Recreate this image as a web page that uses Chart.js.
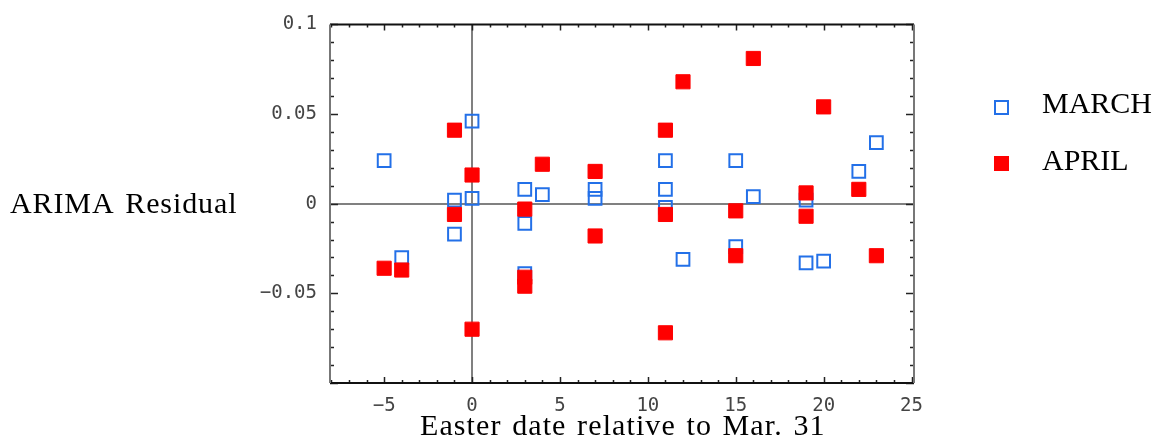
<!DOCTYPE html>
<html>
<head>
<meta charset="utf-8">
<title>ARIMA Residual vs Easter date</title>
<script src="https://cdn.jsdelivr.net/npm/chart.js@4/dist/chart.umd.min.js"></script>
<style>
    body { margin: 0; background: #fff; }
    .wrap { position: relative; width: 1154px; height: 441px; }
    .serif { position: absolute; font-family: "Liberation Serif", "DejaVu Serif", serif; font-size: 30px; line-height: 30px; color: #000; white-space: nowrap; }
    .mark { position: absolute; box-sizing: border-box; }
</style>
</head>
<body>
<div class="wrap">
    <canvas id="residualChart" width="1154" height="441"></canvas>
    <div class="serif" style="left:10px; top:188px; letter-spacing:0.9px; word-spacing:4px;">ARIMA Residual</div>
    <div class="serif" style="left:420px; top:410px; letter-spacing:1.1px; word-spacing:2px;">Easter date relative to Mar. 31</div>
    <div class="mark" style="left:994px; top:100px; width:15px; height:15px; border:2px solid #2370e8;"></div>
    <div class="serif" style="left:1042px; top:88px;">MARCH</div>
    <div class="mark" style="left:994px; top:156px; width:15px; height:15px; background:#ff0000;"></div>
    <div class="serif" style="left:1042px; top:145px;">APRIL</div>
</div>
<script>
// ============================================
// DATOS
// ============================================
const easterOffsets = [-5, -4, -1, -1, 0, 0, 3, 3, 3, 4, 7, 7, 11, 11, 11, 12, 15, 15, 16, 19, 19, 20, 22, 23];
const marchResiduals = [0.024, -0.030, 0.002, -0.017, 0.046, 0.003, 0.008, -0.011, -0.039, 0.005, 0.008, 0.003,
                        0.024, 0.008, -0.002, -0.031, 0.024, -0.024, 0.004, 0.002, -0.033, -0.032, 0.018, 0.034];
const aprilResiduals = [-0.036, -0.037, 0.041, -0.006, 0.016, -0.070, -0.003, -0.041, -0.046, 0.022, 0.018, -0.018,
                        0.041, -0.006, -0.072, 0.068, -0.004, -0.029, 0.081, 0.006, -0.007, 0.054, 0.008, -0.029];
const xTickValues = [-5, 0, 5, 10, 15, 20, 25];
const yTickValues = [-0.05, 0, 0.05, 0.1];

const toPoints = (ys) => easterOffsets.map((x, i) => ({ x: x, y: ys[i] }));
const fmtTick = (v) => String(+Number(v).toFixed(2)).replace('-', '\u2212');
const tickFont = { family: '"DejaVu Sans Mono", "Liberation Mono", monospace', size: 19 };

// ============================================
// MARCO, EJES EN CERO Y MARCAS INTERIORES
// ============================================
const framePlugin = {
    id: 'framePlugin',
    beforeDatasetsDraw(chart) {
        const { ctx, chartArea: a, scales: { x, y } } = chart;
        ctx.save();
        ctx.strokeStyle = '#808080';
        ctx.lineWidth = 2;
        ctx.beginPath();
        const x0 = Math.round(x.getPixelForValue(0));
        const y0 = Math.round(y.getPixelForValue(0));
        ctx.moveTo(x0, a.top); ctx.lineTo(x0, a.bottom);
        ctx.moveTo(a.left, y0); ctx.lineTo(a.right, y0);
        ctx.stroke();
        ctx.restore();
    },
    afterDatasetsDraw(chart) {
        const { ctx, chartArea: a, scales: { x, y } } = chart;
        ctx.save();
        ctx.lineWidth = 1.5;
        // marcas en x (cada 1, mayores cada 5)
        ctx.strokeStyle = '#222';
        ctx.beginPath();
        for (let v = Math.ceil(x.min); v <= x.max; v++) {
            const px = Math.round(x.getPixelForValue(v)) + 0.5;
            const len = v % 5 === 0 ? 6 : 3;
            ctx.moveTo(px, a.top); ctx.lineTo(px, a.top + len);
            ctx.moveTo(px, a.bottom); ctx.lineTo(px, a.bottom - len);
        }
        // marcas en y (cada 0.01, mayores cada 0.05)
        for (let k = Math.ceil(y.min * 100); k <= Math.floor(y.max * 100 + 1e-6); k++) {
            const py = Math.round(y.getPixelForValue(k / 100)) + 0.5;
            const len = k % 5 === 0 ? 8 : 4;
            ctx.moveTo(a.left, py); ctx.lineTo(a.left + len, py);
            ctx.moveTo(a.right, py); ctx.lineTo(a.right - len, py);
        }
        ctx.stroke();
        // marco
        ctx.lineWidth = 2;
        ctx.strokeStyle = '#111';
        ctx.beginPath();
        ctx.moveTo(a.left, a.top); ctx.lineTo(a.right, a.top);
        ctx.moveTo(a.left, a.bottom); ctx.lineTo(a.right, a.bottom);
        ctx.stroke();
        ctx.strokeStyle = '#777';
        ctx.beginPath();
        ctx.moveTo(a.left, a.top); ctx.lineTo(a.left, a.bottom);
        ctx.moveTo(a.right, a.top); ctx.lineTo(a.right, a.bottom);
        ctx.stroke();
        ctx.restore();
    }
};

// ============================================
// GRAFICA
// ============================================
const ctx = document.getElementById('residualChart').getContext('2d');
const chart = new Chart(ctx, {
    type: 'scatter',
    data: {
        datasets: [
            {
                label: 'MARCH',
                data: toPoints(marchResiduals),
                pointStyle: 'rect',
                pointRadius: 9,
                backgroundColor: 'rgba(0,0,0,0)',
                borderColor: '#2370e8',
                borderWidth: 2,
                order: 2
            },
            {
                label: 'APRIL',
                data: toPoints(aprilResiduals),
                pointStyle: 'rect',
                pointRadius: 10,
                backgroundColor: '#ff0000',
                borderColor: '#ff0000',
                borderWidth: 1,
                order: 1
            }
        ]
    },
    options: {
        responsive: false,
        animation: false,
        events: [],
        devicePixelRatio: 1,
        layout: { padding: { top: 24, right: 240, left: 0, bottom: 0 } },
        plugins: { legend: { display: false }, tooltip: { enabled: false } },
        scales: {
            x: {
                type: 'linear',
                min: -8.08,
                max: 25.14,
                afterFit: (s) => { s.height = 58; },
                afterBuildTicks: (s) => { s.ticks = xTickValues.map(v => ({ value: v })); },
                grid: { display: false, drawTicks: false },
                border: { display: false },
                ticks: { padding: 12, color: '#444', font: tickFont, maxRotation: 0, callback: fmtTick }
            },
            y: {
                type: 'linear',
                min: -0.1,
                max: 0.1,
                afterFit: (s) => { s.width = 330; },
                afterBuildTicks: (s) => { s.ticks = yTickValues.map(v => ({ value: v })); },
                grid: { display: false, drawTicks: false },
                border: { display: false },
                ticks: { padding: 13, color: '#444', font: tickFont, callback: fmtTick }
            }
        }
    },
    plugins: [framePlugin]
});
</script>
</body>
</html>
